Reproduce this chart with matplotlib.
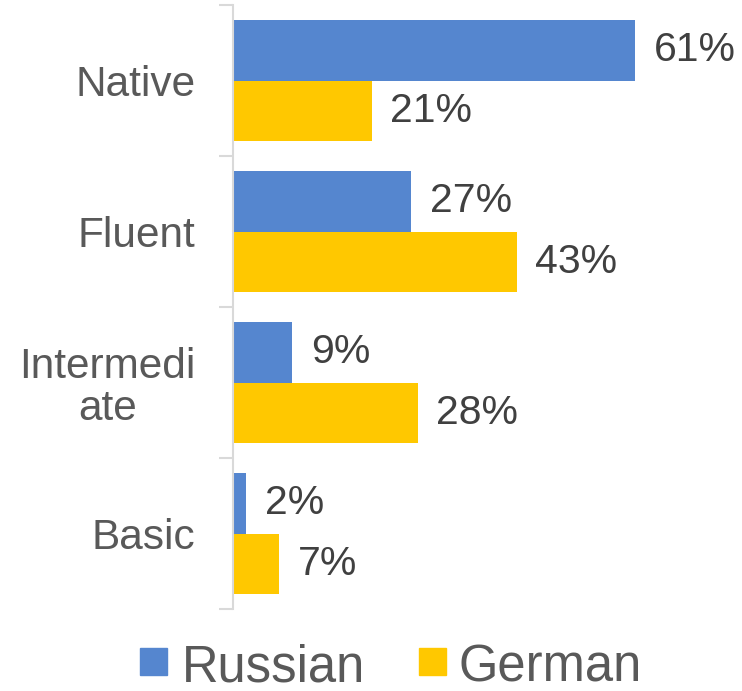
import matplotlib
matplotlib.use("Agg")
import matplotlib.pyplot as plt
from matplotlib.patches import Rectangle

categories = ["Native", "Fluent", "Intermedi\nate", "Basic"]
series_names = ["Russian", "German"]
russian = [61, 27, 9, 2]
german = [21, 43, 28, 7]
colors = ["#5586CF", "#FFC800"]

plt.rcParams['font.family'] = ['Liberation Sans', 'DejaVu Sans']

W, H = 742, 691
fig = plt.figure(figsize=(W / 100, H / 100), dpi=100)
ax = fig.add_axes([233 / W, 1 - 609 / H, 508 / W, 604 / H])

ys = list(range(len(categories)))
bh = 0.4
for vals, off, col in [(russian, -bh / 2, colors[0]), (german, bh / 2, colors[1])]:
    pos = [y + off for y in ys]
    bars = ax.barh(pos, vals, height=bh, color=col, edgecolor='none')
    for b, v in zip(bars, vals):
        ax.annotate(f"{v}%", (b.get_width(), b.get_y() + b.get_height() / 2),
                    xytext=(13.5, 0), textcoords='offset points',
                    ha='left', va='center', fontsize=29.5, color='#404040')

ax.set_xlim(0, 77)
ax.set_ylim(len(categories) - 0.5, -0.5)
ax.set_xticks([])
ax.set_yticks([y + 0.5 for y in [-1] + ys])
ax.set_yticklabels([])
ax.set_yticks(ys, minor=True)
ax.set_yticklabels(categories, minor=True, fontsize=30.5, color='#595959',
                   ha='right', multialignment='center', linespacing=1.05)
ax.tick_params(axis='y', which='major', length=10, width=1.5, color='#D9D9D9')
ax.tick_params(axis='y', which='minor', length=0, pad=27)
for s in ['top', 'right', 'bottom']:
    ax.spines[s].set_visible(False)
ax.spines['left'].set_color('#D9D9D9')
ax.spines['left'].set_linewidth(1.5)

# legend
for name, col, sx, tx in [(series_names[0], colors[0], 140, 182),
                           (series_names[1], colors[1], 419, 459)]:
    fig.patches.append(Rectangle((sx / W, 1 - 675 / H), 27 / W, 27 / H,
                                 transform=fig.transFigure, color=col))
    fig.text(tx / W, 1 - 682 / H, name, fontsize=36.5, color='#595959',
             ha='left', va='baseline')

fig.savefig("out.png", dpi=100)
